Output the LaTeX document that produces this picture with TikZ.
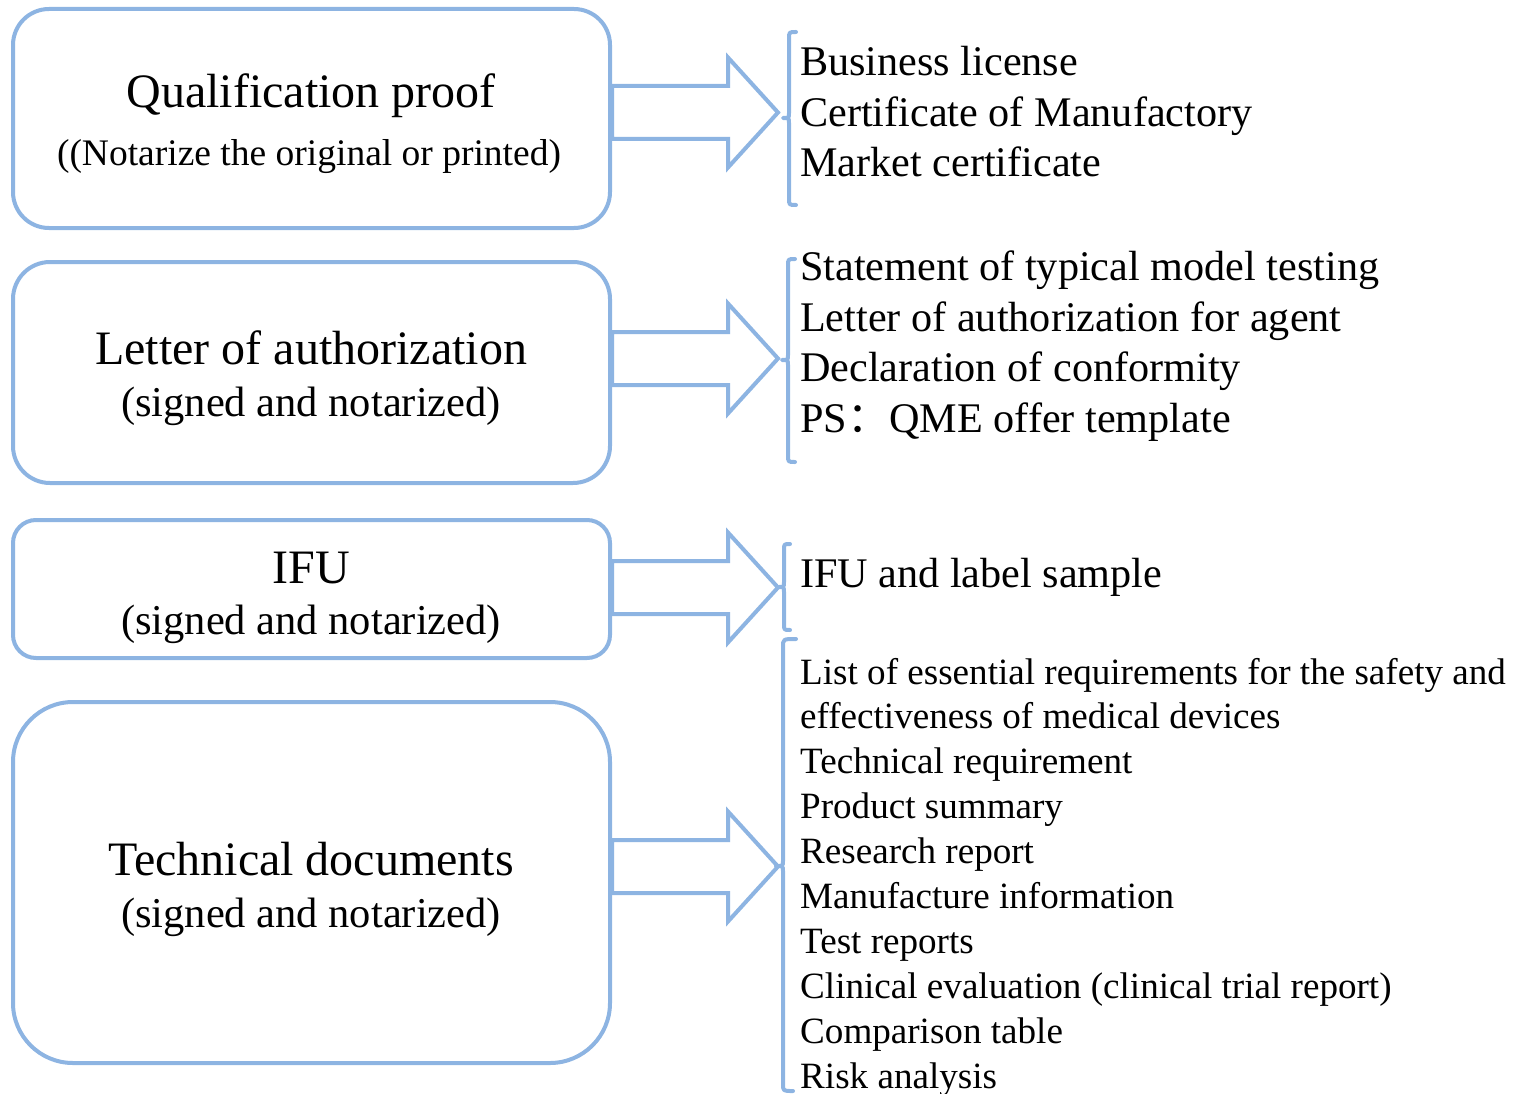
\documentclass[tikz,border=0pt]{standalone}
\usepackage{fontspec}
\setmainfont{Liberation Serif}
\newfontfamily\cjkfont{Noto Sans CJK SC}
\definecolor{lb}{RGB}{141,180,226}
\tikzset{
 box/.style={draw=lb, line width=4pt, fill=white, inner sep=0pt, minimum width=597pt},
 blk/.style={draw=lb, line width=4pt, fill=white, line join=miter},
 brk/.style={draw=lb, line width=4pt, line cap=round, line join=round},
 txt/.style={inner sep=0pt, anchor=base west, font=\fontsize{42.2}{50}\selectfont},
 smalltxt/.style={inner sep=0pt, anchor=base west, font=\fontsize{37.1}{45}\selectfont},
 ttl/.style={inner sep=0pt, anchor=base, font=\fontsize{48}{56}\selectfont},
 subttl/.style={inner sep=0pt, anchor=base, font=\fontsize{42.5}{50}\selectfont},
 notettl/.style={inner sep=0pt, anchor=base, font=\fontsize{37.5}{45}\selectfont},
 barrow/.pic={\draw[blk] (0,-26.5) -- (116,-26.5) -- (116,-55) -- (166,0) -- (116,55) -- (116,26.5) -- (0,26.5) -- cycle;}
}
\begin{document}
\begin{tikzpicture}[x=1pt,y=-1pt]
\useasboundingbox (0,0) rectangle (1514,1094);
% boxes
\node[box, rounded corners=36pt, minimum height=219pt] (b1) at (311.5,118.5) {};
\node[box, rounded corners=37pt, minimum height=221pt] (b2) at (311.5,372.5) {};
\node[box, rounded corners=23pt, minimum height=138pt] (b3) at (311.5,589) {};
\node[box, rounded corners=60pt, minimum height=361pt] (b4) at (311.5,882.5) {};
% box texts
\node[ttl] (t1) at (311,108) {Qualification proof};
\node[notettl] (s1) at (309,166) {((Notarize the original or printed)};
\node[ttl] (t2) at (311,364.5) {Letter of authorization};
\node[subttl] (s2) at (311,416) {(signed and notarized)};
\node[ttl] (t3) at (311,583.5) {IFU};
\node[subttl] (s3) at (311,634.5) {(signed and notarized)};
\node[ttl] (t4) at (311,875.5) {Technical documents};
\node[subttl] (s4) at (311,927) {(signed and notarized)};
% arrows
\coordinate (a1) at (612,112.5);
\coordinate (a2) at (612,358.5);
\coordinate (a3) at (612,587.5);
\coordinate (a4) at (612,866.5);
\pic at (a1) {barrow};
\pic at (a2) {barrow};
\pic at (a3) {barrow};
\pic at (a4) {barrow};
% brackets
\draw[brk] (796,32) .. controls (789,32) .. (789,39) -- (789,113) .. controls (789,118) .. (783,118) .. controls (789,118) .. (789,123) -- (789,198) .. controls (789,205) .. (796,205);
\draw[brk] (795,259) .. controls (788,259) .. (788,266) -- (788,355) .. controls (788,360) .. (782,360) .. controls (788,360) .. (788,365) -- (788,455) .. controls (788,462) .. (795,462);
\draw[brk] (790,544) .. controls (784,544) .. (784,550) -- (784,582) .. controls (784,587) .. (779,587) .. controls (784,587) .. (784,592) -- (784,624) .. controls (784,630) .. (790,630);
\draw[brk] (796,639) .. controls (783,639) .. (783,647) -- (783,861) .. controls (783,866) .. (776,866) .. controls (783,866) .. (783,871) -- (783,1084) .. controls (783,1091) .. (793,1091);
% right texts
\node[txt] (r11) at (800,76) {Business license};
\node[txt] (r12) at (800,126.5) {Certificate of Manufactory};
\node[txt] (r13) at (800,177) {Market certificate};
\node[txt] (r21) at (800,280) {Statement of typical model testing};
\node[txt] (r22) at (800,331) {Letter of authorization for agent};
\node[txt] (r23) at (800,381.5) {Declaration of conformity};
\node[txt] (r24) at (800,432.5) {PS{\cjkfont ：}QME offer template};
\node[txt] (r31) at (800,587.5) {IFU and label sample};
\node[smalltxt] (r41) at (800,684) {List of essential requirements for the safety and};
\node[smalltxt] (r42) at (800,728.9) {effectiveness of medical devices};
\node[smalltxt] (r43) at (800,773.8) {Technical requirement};
\node[smalltxt] (r44) at (800,818.7) {Product summary};
\node[smalltxt] (r45) at (800,863.6) {Research report};
\node[smalltxt] (r46) at (800,908.5) {Manufacture information};
\node[smalltxt] (r47) at (800,953.4) {Test reports};
\node[smalltxt] (r48) at (800,998.3) {Clinical evaluation (clinical trial report)};
\node[smalltxt] (r49) at (800,1043.2) {Comparison table};
\node[smalltxt] (r410) at (800,1088) {Risk analysis};
\end{tikzpicture}
\end{document}
